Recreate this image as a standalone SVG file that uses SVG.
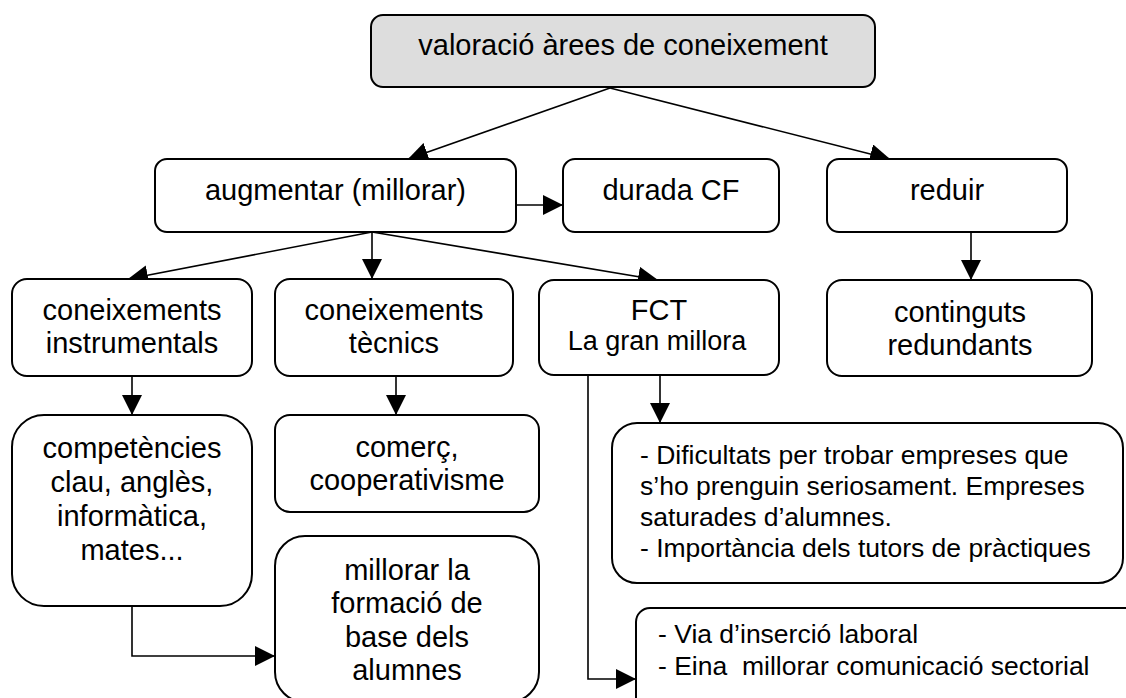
<svg xmlns="http://www.w3.org/2000/svg" width="1126" height="698" viewBox="0 0 1126 698">
<style>
.box{fill:#fff;stroke:#000;stroke-width:2}
.top{fill:#dddddd;stroke:#000;stroke-width:2}
.t{font-family:"Liberation Sans",Arial,sans-serif;font-size:29px;fill:#000;text-anchor:middle}
.s{font-family:"Liberation Sans",Arial,sans-serif;font-size:26.5px;fill:#000;white-space:pre}
.c{fill:none;stroke:#000;stroke-width:1.6}
</style>
<defs>
<marker id="ah" markerUnits="userSpaceOnUse" markerWidth="21" markerHeight="20" refX="20" refY="10" orient="auto">
<path d="M0,0 L20,10 L0,20 z" fill="#000"/>
</marker>
</defs>
<g id="connectors">
<line class="c" x1="610" y1="88" x2="408" y2="159" marker-end="url(#ah)"/>
<line class="c" x1="610" y1="88" x2="890" y2="159" marker-end="url(#ah)"/>
<line class="c" x1="516" y1="205" x2="563" y2="205" marker-end="url(#ah)"/>
<line class="c" x1="372" y1="232" x2="128" y2="279" marker-end="url(#ah)"/>
<line class="c" x1="372" y1="232" x2="372" y2="279" marker-end="url(#ah)"/>
<line class="c" x1="372" y1="232" x2="658" y2="280" marker-end="url(#ah)"/>
<line class="c" x1="971" y1="232" x2="971" y2="280" marker-end="url(#ah)"/>
<line class="c" x1="132" y1="376" x2="132" y2="415" marker-end="url(#ah)"/>
<line class="c" x1="396" y1="376" x2="396" y2="415" marker-end="url(#ah)"/>
<line class="c" x1="660" y1="375" x2="660" y2="423" marker-end="url(#ah)"/>
<polyline class="c" points="588,375 588,679 636,679" marker-end="url(#ah)"/>
<polyline class="c" points="132,606 132,656 275,656" marker-end="url(#ah)"/>
</g>
<g id="n-top">
<rect class="top" x="371" y="15" width="504" height="72" rx="12"/>
<text class="t" x="623" y="55">valoració àrees de coneixement</text>
</g>
<g id="n-augmentar">
<rect class="box" x="155" y="159" width="361" height="73" rx="12"/>
<text class="t" x="335.5" y="200">augmentar (millorar)</text>
</g>
<g id="n-durada">
<rect class="box" x="563" y="159" width="216" height="73" rx="12"/>
<text class="t" x="671" y="200">durada CF</text>
</g>
<g id="n-reduir">
<rect class="box" x="827" y="159" width="240" height="73" rx="12"/>
<text class="t" x="947" y="200">reduir</text>
</g>
<g id="n-instrumentals">
<rect class="box" x="12" y="279" width="240" height="97" rx="15"/>
<text class="t" x="132" y="320">coneixements</text>
<text class="t" x="132" y="353">instrumentals</text>
</g>
<g id="n-tecnics">
<rect class="box" x="275" y="279" width="238" height="97" rx="15"/>
<text class="t" x="394" y="320">coneixements</text>
<text class="t" x="394" y="353">tècnics</text>
</g>
<g id="n-fct">
<rect class="box" x="539" y="280" width="240" height="95" rx="15"/>
<text class="t" x="659" y="320">FCT</text>
<text class="t" x="657" y="350" style="font-size:27px">La gran millora</text>
</g>
<g id="n-continguts">
<rect class="box" x="827" y="280" width="265" height="96" rx="15"/>
<text class="t" x="960" y="322">continguts</text>
<text class="t" x="960" y="355">redundants</text>
</g>
<g id="n-competencies">
<rect class="box" x="12" y="415" width="240" height="191" rx="32"/>
<text class="t" x="132" y="458">competències</text>
<text class="t" x="132" y="492">clau, anglès,</text>
<text class="t" x="132" y="526">informàtica,</text>
<text class="t" x="132" y="560">mates...</text>
</g>
<g id="n-comerc">
<rect class="box" x="275" y="415" width="264" height="97" rx="15"/>
<text class="t" x="407" y="457">comerç,</text>
<text class="t" x="407" y="490">cooperativisme</text>
</g>
<g id="n-millorar">
<rect class="box" x="275" y="536" width="264" height="166" rx="30"/>
<text class="t" x="407" y="580">millorar la</text>
<text class="t" x="407" y="613">formació de</text>
<text class="t" x="407" y="647">base dels</text>
<text class="t" x="407" y="680">alumnes</text>
</g>
<g id="n-dificultats">
<rect class="box" x="612" y="423" width="511" height="160" rx="25"/>
<text class="s" x="640" y="464">- Dificultats per trobar empreses que</text>
<text class="s" x="640" y="495">s’ho prenguin seriosament. Empreses</text>
<text class="s" x="640" y="526">saturades d’alumnes.</text>
<text class="s" x="640" y="557">- Importància dels tutors de pràctiques</text>
</g>
<g id="n-via">
<rect class="box" x="636" y="608" width="520" height="110" rx="14"/>
<text class="s" x="658" y="643">- Via d’inserció laboral</text>
<text class="s" x="658" y="675" xml:space="preserve">- Eina  millorar comunicació sectorial</text>
</g>
</svg>
